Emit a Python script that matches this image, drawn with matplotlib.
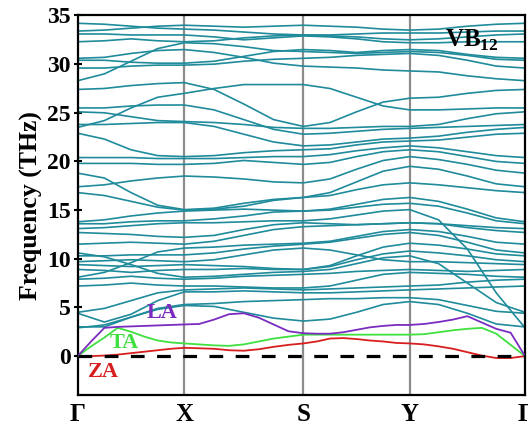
import numpy as np
import matplotlib
matplotlib.use('Agg')
import matplotlib.pyplot as plt

# ---------------- data ----------------
path_labels = ['Γ', 'X', 'S', 'Y', 'Γ']
kpoints = [0.0, 1.066, 2.256, 3.320, 4.473]   # cumulative path length at high-symmetry points

# optical branches, sampled at quarter points of each segment (17 samples)
optical = [
    [34.2, 34.1, 33.9, 33.7, 33.6, 33.5, 33.3, 33.1, 33.0, 32.9, 32.8, 32.6, 32.5, 32.6, 32.8, 33.0, 33.1],
    [33.4, 33.5, 33.7, 33.9, 34.0, 33.9, 33.8, 33.9, 34.0, 33.9, 33.8, 33.6, 33.5, 33.6, 33.9, 34.1, 34.2],
    [33.1, 33.1, 33.0, 33.0, 33.0, 32.8, 32.5, 32.7, 32.9, 32.8, 32.6, 32.3, 32.2, 32.2, 32.3, 32.3, 32.3],
    [32.3, 32.4, 32.6, 32.4, 32.3, 32.4, 32.7, 32.9, 33.0, 33.0, 33.1, 33.2, 33.2, 33.2, 33.3, 33.4, 33.4],
    [30.6, 30.7, 31.1, 31.4, 31.5, 31.2, 30.7, 30.1, 29.8, 29.7, 29.6, 29.4, 29.3, 29.2, 28.8, 28.5, 28.3],
    [30.4, 30.4, 30.2, 30.1, 30.1, 30.3, 30.8, 31.3, 31.5, 31.4, 31.2, 31.4, 31.5, 31.4, 31.0, 30.7, 30.6],
    [29.6, 29.6, 29.8, 29.9, 29.9, 30.0, 30.3, 30.5, 30.6, 30.7, 30.9, 31.0, 31.1, 30.9, 30.4, 29.8, 29.6],
    [28.3, 29.0, 30.3, 31.6, 32.2, 32.1, 31.8, 31.4, 31.3, 31.2, 31.1, 31.2, 31.3, 31.2, 30.9, 30.5, 30.4],
    [27.4, 27.5, 27.8, 28.0, 28.1, 27.4, 25.9, 24.3, 23.6, 24.0, 25.1, 26.1, 26.5, 26.6, 27.0, 27.3, 27.4],
    [25.5, 25.5, 25.7, 25.8, 25.8, 25.3, 24.3, 23.3, 22.8, 22.9, 23.1, 23.3, 23.4, 23.5, 23.6, 23.7, 23.8],
    [25.1, 25.0, 24.6, 24.2, 24.1, 24.0, 23.8, 23.5, 23.4, 23.4, 23.5, 23.6, 23.6, 23.8, 24.4, 24.9, 25.1],
    [23.8, 23.8, 23.9, 24.0, 24.0, 23.6, 22.8, 22.0, 21.6, 21.7, 22.0, 22.3, 22.4, 22.6, 23.0, 23.3, 23.5],
    [23.5, 24.2, 25.5, 26.6, 27.0, 27.5, 27.9, 27.9, 27.9, 27.5, 26.6, 25.7, 25.3, 25.3, 25.4, 25.5, 25.5],
    [22.9, 22.3, 21.2, 20.6, 20.5, 20.6, 20.9, 21.1, 21.2, 21.3, 21.7, 22.0, 22.1, 22.2, 22.5, 22.8, 22.9],
    [20.4, 20.4, 20.4, 20.3, 20.3, 20.3, 20.4, 20.5, 20.5, 20.7, 21.1, 21.4, 21.6, 21.4, 21.0, 20.6, 20.4],
    [19.8, 19.8, 19.8, 19.7, 19.7, 19.8, 20.1, 19.9, 19.7, 19.9, 20.5, 21.0, 21.2, 21.0, 20.5, 20.0, 19.8],
    [17.4, 17.6, 18.0, 18.3, 18.5, 18.4, 18.2, 17.9, 17.8, 18.2, 19.2, 20.1, 20.5, 20.2, 19.7, 19.1, 18.8],
    [18.8, 18.3, 16.8, 15.5, 15.05, 15.2, 15.7, 16.1, 16.3, 16.8, 17.9, 19.0, 19.5, 19.2, 18.5, 17.7, 17.4],
    [16.8, 16.5, 15.9, 15.3, 15.0, 15.1, 15.4, 16.0, 16.3, 16.5, 17.1, 17.6, 17.8, 17.6, 17.3, 17.0, 16.8],
    [13.8, 14.0, 14.4, 14.7, 14.9, 15.0, 15.1, 15.0, 14.9, 15.1, 15.6, 16.1, 16.3, 15.9, 15.1, 14.2, 13.8],
    [13.6, 13.6, 13.8, 13.9, 13.9, 14.1, 14.4, 14.8, 14.9, 15.0, 15.3, 15.6, 15.7, 15.4, 14.7, 13.9, 13.6],
    [13.1, 13.2, 13.4, 13.6, 13.7, 13.7, 13.8, 13.9, 13.9, 14.1, 14.5, 14.9, 15.05, 14.0, 11.0, 6.5, 2.9],
    [12.7, 12.6, 12.5, 12.3, 12.2, 12.4, 13.0, 13.5, 13.7, 13.6, 13.5, 13.6, 13.7, 13.6, 13.4, 13.2, 13.1],
    [11.5, 11.6, 11.7, 11.6, 11.5, 11.8, 12.4, 13.0, 13.3, 13.4, 13.5, 13.6, 13.7, 13.6, 13.2, 12.9, 12.7],
    [10.6, 10.2, 9.4, 8.5, 8.1, 8.2, 8.4, 8.6, 8.7, 8.9, 9.5, 10.1, 10.3, 9.5, 7.5, 5.5, 4.5],
    [10.3, 10.3, 10.4, 10.4, 10.4, 10.6, 11.0, 11.3, 11.5, 11.7, 12.1, 12.5, 12.7, 12.4, 11.7, 10.9, 10.6],
    [9.7, 9.8, 9.9, 9.8, 9.7, 9.9, 10.4, 10.9, 11.1, 10.9, 10.4, 9.9, 9.7, 9.7, 9.6, 9.5, 9.4],
    [9.4, 9.3, 9.2, 9.3, 9.4, 9.3, 9.2, 9.0, 8.9, 9.3, 10.3, 11.2, 11.6, 11.4, 11.0, 10.5, 10.3],
    [8.9, 8.8, 8.6, 8.8, 8.9, 8.9, 9.0, 8.9, 8.9, 9.2, 9.9, 10.5, 10.8, 10.6, 10.3, 9.9, 9.7],
    [8.1, 8.6, 9.6, 10.7, 11.1, 11.2, 11.4, 11.5, 11.6, 11.8, 12.3, 12.8, 13.0, 12.8, 12.3, 11.7, 11.5],
    [7.9, 8.0, 8.2, 8.0, 7.9, 8.0, 8.2, 8.3, 8.4, 8.5, 8.7, 8.8, 8.9, 8.8, 8.7, 8.8, 8.9],
    [7.2, 7.3, 7.5, 7.3, 7.2, 7.2, 7.1, 7.0, 7.0, 7.2, 7.8, 8.4, 8.6, 8.5, 8.4, 8.2, 8.1],
    [4.5, 4.9, 5.7, 6.5, 6.8, 6.9, 7.0, 6.9, 6.8, 6.9, 7.0, 7.1, 7.2, 7.3, 7.6, 7.8, 7.9],
    [4.4, 3.5, 4.3, 5.7, 6.6, 6.6, 6.7, 6.6, 6.5, 6.5, 6.6, 6.7, 6.8, 6.9, 7.0, 7.1, 7.2],
    [3.0, 3.0, 4.0, 4.9, 5.3, 5.4, 5.6, 5.7, 5.8, 5.9, 5.9, 6.0, 6.0, 5.8, 5.2, 4.6, 4.4],
    [2.9, 3.2, 4.0, 4.8, 5.2, 5.1, 4.5, 3.9, 3.6, 3.8, 4.5, 5.3, 5.6, 5.3, 4.4, 3.3, 3.0],
]

# acoustic branches, sampled at eighth points of each segment (33 samples)
za = [0.0, 0.0, 0.05, 0.15, 0.3, 0.45, 0.6, 0.75, 0.85,
      0.8, 0.75, 0.6, 0.55, 0.7, 0.95, 1.15, 1.3,
      1.5, 1.8, 1.85, 1.75, 1.6, 1.5, 1.35, 1.3,
      1.2, 1.0, 0.75, 0.4, 0.05, -0.2, -0.2, 0.0]
ta = [0.0, 1.0, 1.9, 2.9, 2.5, 2.0, 1.6, 1.4, 1.3,
      1.2, 1.1, 1.05, 1.2, 1.5, 1.8, 2.0, 2.2,
      2.2, 2.2, 2.2, 2.2, 2.2, 2.2, 2.2, 2.2,
      2.25, 2.45, 2.65, 2.8, 2.9, 2.3, 1.15, 0.0]
la = [0.0, 1.5, 2.9, 3.0, 3.05, 3.1, 3.15, 3.2, 3.25,
      3.3, 3.75, 4.3, 4.4, 3.95, 3.25, 2.55, 2.35,
      2.3, 2.3, 2.45, 2.7, 2.95, 3.1, 3.2, 3.2,
      3.3, 3.5, 3.75, 4.1, 3.45, 2.8, 2.4, 0.0]

yticks = [0, 5, 10, 15, 20, 25, 30, 35]

# ---------------- plot ----------------
def kgrid(n_per_seg):
    xs = [kpoints[0]]
    for a, b in zip(kpoints[:-1], kpoints[1:]):
        xs.extend(np.linspace(a, b, n_per_seg + 1)[1:])
    return np.array(xs)

k_opt = kgrid(4)
k_ac = kgrid(8)

plt.rcParams['font.family'] = ['Liberation Serif', 'DejaVu Serif']
plt.rcParams['mathtext.fontset'] = 'custom'
plt.rcParams['mathtext.rm'] = 'Liberation Serif:bold'
plt.rcParams['mathtext.bf'] = 'Liberation Serif:bold'

fig = plt.figure(figsize=(5.28, 4.28), dpi=100)
ax = fig.add_axes([0.1472, 0.0771, 0.8472, 0.8867])

teal = '#1f8b9b'
for band in optical:
    ax.plot(k_opt, band, color=teal, lw=1.2, zorder=2)

ax.plot(k_ac, za, color='#d81e1e', lw=1.3, zorder=3)
ax.plot(k_ac, ta, color='#3fe03f', lw=1.3, zorder=3)
ax.plot(k_ac, la, color='#7a2cc0', lw=1.3, zorder=3)

for kx in kpoints[1:-1]:
    ax.axvline(kx, color='#8c8c8c', lw=1.6, zorder=1)

ax.axhline(0, color='black', lw=2.3, dashes=(4.3, 3.9), zorder=4)

ax.set_xlim(kpoints[0], kpoints[-1])
ax.set_ylim(-4, 35)
ax.set_xticks(kpoints)
ax.set_xticklabels(path_labels, fontsize=18, fontweight='bold')
ax.set_yticks(yticks)
ax.set_yticklabels([str(v) for v in yticks], fontsize=17, fontweight='bold')
ax.tick_params(axis='x', length=0, pad=6)
ax.tick_params(axis='y', direction='inout', length=6, width=1.5, pad=2)
for s in ax.spines.values():
    s.set_linewidth(1.6)

ax.set_ylabel('Frequency (THz)', fontsize=18.5, fontweight='bold', labelpad=3)

ax.text(0.843, 4.4, 'LA', color='#7a2cc0', fontsize=16, fontweight='bold', ha='center', va='center')
ax.text(0.463, 1.3, 'TA', color='#3fe03f', fontsize=16, fontweight='bold', ha='center', va='center')
ax.text(0.253, -1.6, 'ZA', color='#d81e1e', fontsize=16, fontweight='bold', ha='center', va='center')
ax.text(3.673, 31.8, r'VB$_{\mathbf{12}}$', color='black', fontsize=18, fontweight='bold',
        ha='left', va='baseline')

fig.savefig('out.png', dpi=100)
